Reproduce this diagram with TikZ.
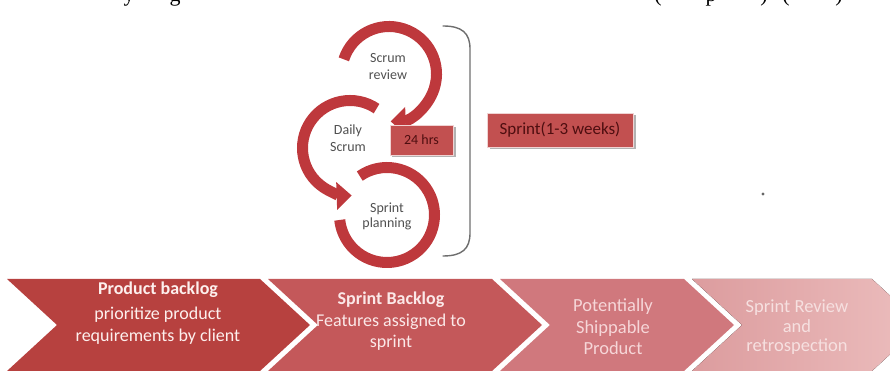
\documentclass[tikz,border=0pt]{standalone}
\usepackage{fontspec}
\setmainfont{Carlito}
\newfontfamily\pagefont{Liberation Serif}
\usetikzlibrary{arrows.meta}

\definecolor{arcred}{RGB}{190,56,60}
\definecolor{chA}{RGB}{183,65,63}
\definecolor{chB}{RGB}{196,88,90}
\definecolor{chC}{RGB}{208,120,125}
\definecolor{chD}{RGB}{220,156,158}
\definecolor{chDlight}{RGB}{236,190,190}
\definecolor{txA}{RGB}{253,240,238}
\definecolor{txB}{RGB}{251,232,232}
\definecolor{txC}{RGB}{246,214,216}
\definecolor{txD}{RGB}{246,224,224}
\definecolor{boxred}{RGB}{194,80,80}
\definecolor{boxtext}{RGB}{78,14,16}
\definecolor{labelgray}{RGB}{80,80,80}
\definecolor{bracketgray}{RGB}{110,110,110}

% chevron outline: back edge x = #1, front corner x = #2
\newcommand\chevronpath[2]{(#1,92) -- (#2,92) -- ({#2+50},46) -- (#2,0) -- (#1,0) -- ({#1+50},46) -- cycle}

\begin{document}
\begin{tikzpicture}[x=1pt,y=1pt,
  cycarc/.style={draw=arcred, line width=11pt},
  cyctip/.style={-{Triangle[length=15pt,width=27pt]}},
  cyclabel/.style={font=\fontsize{14}{16}\selectfont, text=labelgray, inner sep=0pt, anchor=base},
  chevtext/.style={font=\fontsize{18}{21}\selectfont, inner sep=0pt, anchor=base},
  redbox/.style={fill=boxred, draw=white!75!boxred, line width=0.8pt},
  boxshadow/.style={fill=black!30},
  pageglyph/.style={font=\pagefont\fontsize{22}{26}\selectfont, inner sep=0pt, anchor=base},
]
\useasboundingbox (0,0) rectangle (890,371);

% descenders of the text line cut off at the top edge
\begin{scope}
  \clip (0,360) rectangle (890,371);
  \node[pageglyph] (gy) at (129,369) {y};
  \node[pageglyph] (gg) at (175,369) {g};
  \node[pageglyph] (gpa) at (658,369) {(};
  \node[pageglyph] (gp) at (711,369) {p};
  \node[pageglyph] (gpb) at (764,369) {)};
  \node[pageglyph] (gpc) at (786,369) {(};
  \node[pageglyph] (gpd) at (839,369) {)};
\end{scope}

% ---- process chevrons ----
\fill[chA] \chevronpath{7}{260};
\fill[chB] \chevronpath{268}{492};
\fill[chC] \chevronpath{500}{684};
\fill[left color=chD, right color=chDlight] \chevronpath{692}{872};

\node[chevtext, text=txA, font=\fontsize{18}{21}\selectfont\bfseries] (pbTitle) at (158,76) {Product backlog};
\node[chevtext, text=txA] (pbA) at (158,51) {prioritize product};
\node[chevtext, text=txA] (pbB) at (158,29) {requirements by client};

\node[chevtext, text=txB, font=\fontsize{18}{21}\selectfont\bfseries] (sbTitle) at (391,66) {Sprint Backlog};
\node[chevtext, text=txB] (sbA) at (391,44) {Features assigned to};
\node[chevtext, text=txB] (sbB) at (391,23) {sprint};

\node[chevtext, text=txC, font=\fontsize{18.5}{21}\selectfont] (psA) at (613,59) {Potentially};
\node[chevtext, text=txC, font=\fontsize{18.5}{21}\selectfont] (psB) at (613,37) {Shippable};
\node[chevtext, text=txC, font=\fontsize{18.5}{21}\selectfont] (psC) at (613,16) {Product};

\node[chevtext, text=txD, font=\fontsize{18.5}{21}\selectfont] (srA) at (797,58) {Sprint Review};
\node[chevtext, text=txD, font=\fontsize{18.5}{21}\selectfont] (srB) at (797,38) {and};
\node[chevtext, text=txD, font=\fontsize{18.5}{21}\selectfont] (srC) at (797,19) {retrospection};

% ---- sprint cycle ----
\coordinate (cT) at (389,297);
\coordinate (cM) at (350,223);
\coordinate (cB) at (387,156);

\draw[cycarc] ([shift={(125:47.5)}]cB) arc[start angle=125, end angle=-174, radius=47.5];
\draw[cycarc, cyctip] ([shift={(56:47.5)}]cM) arc[start angle=56, end angle=272, radius=47.5];
\draw[cycarc, cyctip] ([shift={(162:47.5)}]cT) arc[start angle=162, end angle=-88, radius=47.5];

\node[cyclabel] (revA) at (388,308) {Scrum};
\node[cyclabel] (revB) at (388,291) {review};
\node[cyclabel] (dayA) at (348,236) {Daily};
\node[cyclabel] (dayB) at (348,219) {Scrum};
\node[cyclabel] (plnA) at (387,158) {Sprint};
\node[cyclabel] (plnB) at (387,143) {planning};

% 24 hrs tag
\fill[boxshadow] (392,213.5) rectangle (456,243.5);
\node[redbox, minimum width=63pt, minimum height=30pt, inner sep=0pt,
      font=\fontsize{14}{16}\selectfont, text=boxtext] (hrs) at (421.5,231) {24 hrs};

% bracket spanning the cycle
\draw[bracketgray, line width=1.4pt, line cap=round]
  (443,345) .. controls (462,345) and (470,338) .. (470,322)
  -- (470,138) .. controls (470,122) and (462,115) .. (443,115);

% sprint length tag
\fill[boxshadow] (489.5,221.5) rectangle (636,255.5);
\node[redbox, minimum width=146pt, minimum height=34pt, inner sep=0pt,
      font=\fontsize{17}{20}\selectfont, text=boxtext] (sprint) at (560,241) {Sprint(1-3 weeks)};

% stray dot
\fill[black!60] (763,177) circle[radius=1.6pt];
\end{tikzpicture}
\end{document}
